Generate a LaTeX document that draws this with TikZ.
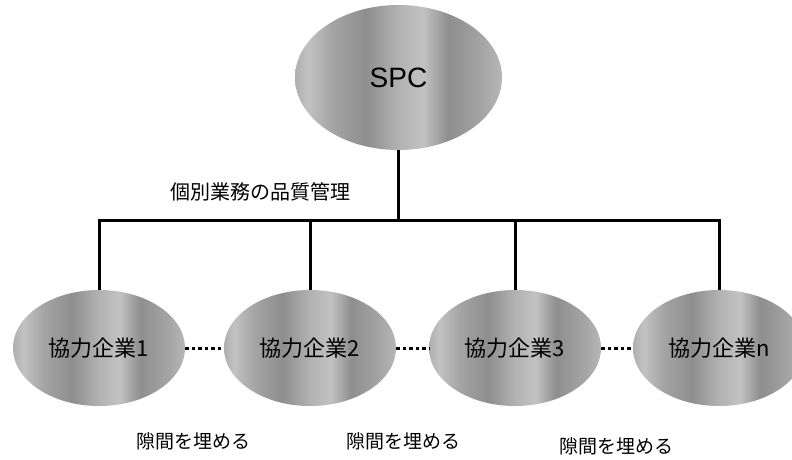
\documentclass[tikz,border=0pt]{standalone}
\usepackage{fontspec}
\setmainfont{Liberation Sans}
\newfontfamily\jpfont{Noto Sans CJK JP}
\usetikzlibrary{shapes.geometric}
\definecolor{gA}{HTML}{8E8E8E}
\definecolor{gB}{HTML}{A4A4A4}
\definecolor{gC}{HTML}{C2C2C2}
\definecolor{gD}{HTML}{B2B2B2}
\pgfdeclarehorizontalshading{stripes}{100bp}{color(0bp)=(gA); color(12bp)=(gB); color(20bp)=(gA); color(28bp)=(gC); color(34bp)=(gB); color(42bp)=(gA); color(50bp)=(gD); color(56bp)=(gC); color(62bp)=(gA); color(70bp)=(gB); color(78bp)=(gC); color(84bp)=(gD); color(92bp)=(gA); color(100bp)=(gB)}
\tikzset{
  blob/.style={ellipse, shading=stripes, inner sep=0pt},
  topblob/.style={blob, minimum width=207pt, minimum height=145pt, font=\fontsize{28}{30}\selectfont},
  subblob/.style={blob, minimum width=172pt, minimum height=116pt, font=\jpfont\fontsize{22}{24}\selectfont},
  bus/.style={line width=3pt},
  dotline/.style={line width=3pt, dash pattern=on 3.5pt off 3pt},
  lbl/.style={font=\jpfont\fontsize{19}{21}\selectfont, inner sep=0pt}
}
\begin{document}
\begin{tikzpicture}[x=1pt,y=-1pt]
\useasboundingbox (0,0) rectangle (792,459);
\clip (0,0) rectangle (792,459);
\node[topblob] (spc) at (398.5,77.5) {SPC};
\node[subblob] (e1) at (99,348) {協力企業1};
\node[subblob] (e2) at (310,348) {協力企業2};
\node[subblob] (e3) at (515,348) {協力企業3};
\node[subblob] (e4) at (719,348) {協力企業n};
\coordinate (bus) at (0,220);
\draw[bus] (spc.south) -- (spc.south |- bus);
\draw[bus] (e1.north) -- (e1.north |- bus) -- (e4.north |- bus) -- (e4.north);
\draw[bus] (e2.north) -- (e2.north |- bus);
\draw[bus] (e3.north) -- (e3.north |- bus);
\draw[dotline] (e1.east) -- (e2.west);
\draw[dotline] (e2.east) -- (e3.west);
\draw[dotline] (e3.east) -- (e4.west);
\node[lbl, font=\jpfont\fontsize{20}{22}\selectfont] (q) at (260,192) {個別業務の品質管理};
\node[lbl] (g1) at (193,441) {隙間を埋める};
\node[lbl] (g2) at (403,441) {隙間を埋める};
\node[lbl] (g3) at (616,446) {隙間を埋める};
\end{tikzpicture}
\end{document}
